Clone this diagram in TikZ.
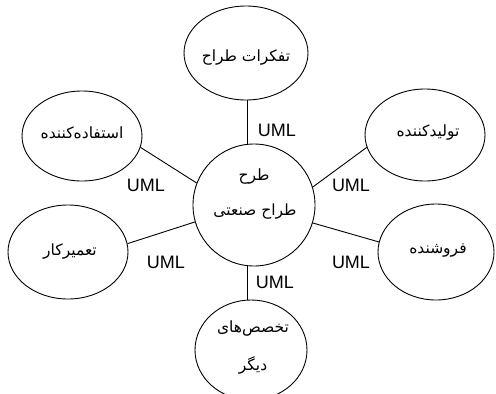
\documentclass[tikz,border=0pt]{standalone}
\usepackage{fontspec}
\setmainfont{Liberation Sans}
\newfontfamily\fa[Script=Arabic]{DejaVu Sans}
\TeXXeTstate=1
\usetikzlibrary{shapes.geometric}
\tikzset{
  oval/.style={ellipse, draw, line width=0.9pt, inner sep=0pt},
  link/.style={draw, line width=0.9pt},
  fatext/.style={font=\fa\fontsize{15.5}{18}\selectfont, inner sep=0pt},
  uml/.style={font=\fontsize{18}{20}\selectfont, inner sep=0pt}
}
\begin{document}
\begin{tikzpicture}[x=1pt,y=-1pt]
\useasboundingbox[fill=white] (0,0) rectangle (496,394);
% shapes
\node[oval, circle, minimum size=122pt] (C) at (254,205) {};
\node[oval, minimum width=124pt, minimum height=94pt] (T) at (246,53) {};
\node[oval, minimum width=120pt, minimum height=90pt] (UL) at (82,136) {};
\node[oval, minimum width=120pt, minimum height=92pt] (UR) at (425,135) {};
\node[oval, minimum width=120pt, minimum height=94pt] (LL) at (68,252) {};
\node[oval, minimum width=116pt, minimum height=96pt] (LR) at (436,252) {};
\node[oval, minimum width=112pt, minimum height=100pt] (B) at (251,350) {};
% texts
\node[fatext] (tC1) at (254,177) {\beginR طرح\endR};
\node[fatext] (tC2) at (255,212) {\beginR طراح صنعتی\endR};
\node[fatext] (tT) at (246,58) {\beginR تفکرات طراح\endR};
\node[fatext] (tUL) at (82,133) {\beginR استفاده‌کننده\endR};
\node[fatext] (tUR) at (428,133) {\beginR تولیدکننده\endR};
\node[fatext] (tLL) at (70,252) {\beginR تعمیرکار\endR};
\node[fatext] (tLR) at (438,250) {\beginR فروشنده\endR};
\node[fatext] (tB1) at (253,328) {\beginR تخصص‌های\endR};
\node[fatext] (tB2) at (253,365) {\beginR دیگر\endR};
% connectors
\path[link] (C.96) -- (C.96 |- T.south);
\path[link] (C.264) -- (C.264 |- B.north);
\path[link] (UL.-11.7) -- (C.159.6);
\path[link] (UR.192.8) -- (C.17);
\path[link] (LL.8.3) -- (C.196);
\path[link] (LR.170) -- (C.-17.8);
% labels
\node[uml] (u1) at (277,130) {UML};
\node[uml] (u2) at (146,185) {UML};
\node[uml] (u3) at (351,185) {UML};
\node[uml] (u4) at (166,262) {UML};
\node[uml] (u5) at (351,262) {UML};
\node[uml] (u6) at (275,282) {UML};
\end{tikzpicture}
\end{document}
